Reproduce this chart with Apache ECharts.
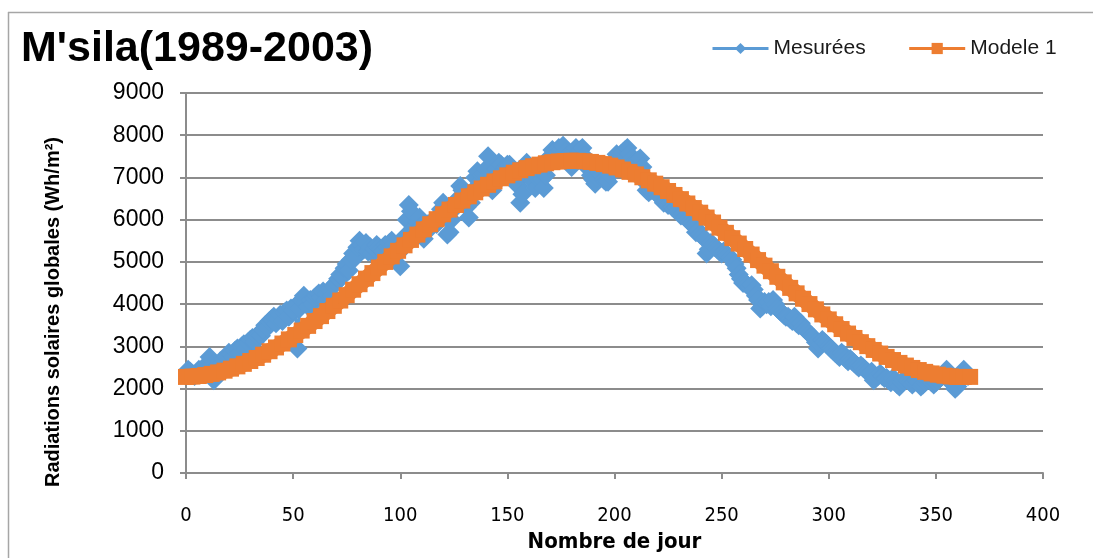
<!DOCTYPE html>
<html><head><meta charset="utf-8">
<script src="https://cdn.jsdelivr.net/npm/echarts@6/dist/echarts.min.js"></script>
<style>html,body{margin:0;padding:0;background:#fff}#c{width:1093px;height:558px}</style>
</head><body><div id="c"></div>
<script>
const TITLE = "M'sila(1989-2003)";
const SERIES_NAMES = ['Mesurées', 'Modele 1'];
const X_NAME = 'Nombre de jour';
const Y_NAME = 'Radiations solaires globales (Wh/m²)';
const X_TICKS = [0, 50, 100, 150, 200, 250, 300, 350, 400];
const Y_TICKS = [0, 1000, 2000, 3000, 4000, 5000, 6000, 7000, 8000, 9000];

// measured daily values, day 1..365
const measuredDays = Array.from({length: 365}, (_, i) => i + 1);
const measuredValues = [
2450,2400,2350,2300,2350,2450,2400,2450,2550,2500,
2750,2550,2200,2450,2550,2650,2600,2700,2750,2850,
2800,2750,2900,2950,2850,3000,3050,2950,3100,3150,
3200,3100,3250,3300,3250,3400,3500,3450,3600,3650,
3700,3550,3650,3750,3600,3800,3850,3700,3900,3850,
3950,2950,3900,4100,4200,4050,3950,4100,4000,4150,
4200,4250,4150,4300,4100,4250,4350,4200,4450,4500,
4600,4700,4650,4850,4950,4800,5050,5200,5100,5350,
5500,5400,5300,5450,5250,5350,5200,5300,5400,5350,
5300,5250,5400,5350,5450,5500,5400,5300,5200,4900,
5400,5600,6000,6350,6200,5800,5700,5950,6050,5850,
5550,5750,5900,5800,5950,6000,5900,6100,6250,6400,
6200,5650,5700,6000,6250,6350,6500,6800,6700,6600,
6300,6050,6400,6700,7000,7150,6900,7050,7100,7200,
7500,7100,6700,7000,7200,7350,7300,7150,7250,7300,
7300,7150,7050,6900,6800,6400,6600,7100,7350,7200,
7050,6900,6750,7000,7100,6950,6750,7050,7300,7500,
7650,7600,7550,7700,7650,7750,7600,7500,7350,7250,
7600,7700,7550,7650,7700,7500,7350,7200,7050,6950,
6850,7000,7100,7050,6950,6900,6900,7050,7200,7400,
7550,7450,7550,7600,7650,7700,7550,7450,7350,7300,
7400,7450,7250,6900,6700,6650,6700,6750,6650,6600,
6550,6500,6400,6450,6350,6400,6300,6250,6300,6200,
6100,6150,6050,6000,5950,5900,5850,5700,5750,5650,
5600,5550,5200,5300,5450,5400,5350,5300,5250,5200,
5250,5200,5150,5100,5050,4950,4850,4700,4600,4500,
4500,4450,4400,4450,4350,4200,4100,3900,3950,4050,
4000,4050,3950,4100,4000,3900,3850,3800,3750,3700,
3700,3650,3600,3700,3550,3500,3550,3450,3400,3350,
3300,3250,3200,3100,2950,3050,3150,3100,3050,3000,
2950,2900,2850,2800,2750,2850,2800,2700,2650,2700,
2650,2600,2550,2500,2550,2500,2450,2400,2350,2400,
2200,2250,2300,2350,2300,2250,2250,2200,2150,2250,
2200,2100,2050,2150,2200,2250,2200,2150,2100,2150,
2200,2150,2050,2100,2150,2200,2250,2150,2100,2150,
2200,2250,2300,2350,2450,2300,2150,2100,2000,2050,
2200,2300,2450,2350,2300
];

// model values read every 3 days, day 0..366
const modelDays = Array.from({length: 123}, (_, i) => i * 3);
const modelValues = [
2277,2285,2299,2321,2349,2384,2425,2473,2527,2587,
2654,2726,2803,2886,2975,3068,3166,3269,3375,3486,
3600,3717,3837,3961,4086,4213,4342,4473,4604,4736,
4868,5000,5132,5263,5393,5521,5647,5771,5893,6012,
6128,6240,6349,6453,6554,6649,6740,6826,6906,6981,
7050,7113,7171,7222,7266,7304,7336,7361,7379,7390,
7395,7393,7383,7368,7345,7316,7280,7237,7188,7133,
7072,7005,6932,6853,6769,6680,6586,6487,6384,6276,
6166,6051,5933,5812,5689,5563,5435,5306,5175,5044,
4912,4780,4648,4516,4386,4256,4128,4002,3878,3757,
3639,3524,3411,3304,3200,3100,3006,2916,2831,2751,
2677,2609,2546,2490,2440,2397,2360,2330,2306,2289,
2278,2275,2278
];

const BLUE = '#5B9BD5', ORANGE = '#ED7D31', GRID = '#8C8C8C';
const NARROW = "'Liberation Sans Narrow','DejaVu Sans Condensed','Liberation Sans',sans-serif";

const chart = echarts.init(document.getElementById('c'), null, {renderer: 'canvas'});
chart.setOption({
  animation: false,
  backgroundColor: '#fff',
  grid: {left: 186, right: 50, top: 93, bottom: 78, containLabel: false},
  title: {
    text: TITLE, left: 16, top: 23,
    textStyle: {fontFamily: 'Liberation Sans', fontWeight: 'bold', fontSize: 43, color: '#000'}
  },
  legend: {
    data: SERIES_NAMES, left: 706, top: 33, itemWidth: 56, itemHeight: 14, itemGap: 42,
    lineStyle: {width: 3},
    textStyle: {fontFamily: 'Liberation Sans', fontSize: 21, color: '#1a1a1a', padding: [0,0,0,0]}
  },
  xAxis: {
    type: 'value', min: X_TICKS[0], max: X_TICKS[X_TICKS.length-1], interval: 50,
    name: X_NAME, nameLocation: 'middle', nameGap: 54,
    nameTextStyle: {fontFamily: NARROW, fontWeight: 'bold', fontSize: 22, color: '#000'},
    axisLine: {show: true, lineStyle: {color: GRID, width: 2}},
    axisTick: {show: true, length: 6, lineStyle: {color: GRID, width: 2}},
    axisLabel: {margin: 33, fontFamily: NARROW, fontSize: 20, color: '#000'},
    splitLine: {show: false}
  },
  yAxis: {
    type: 'value', min: Y_TICKS[0], max: Y_TICKS[Y_TICKS.length-1], interval: 1000,
    axisLine: {show: true, lineStyle: {color: GRID, width: 2}},
    axisTick: {show: true, length: 6, lineStyle: {color: GRID, width: 2}},
    axisLabel: {margin: 22, fontFamily: 'Liberation Sans', fontSize: 23, color: '#000',
      formatter: v => String(v)},
    splitLine: {show: true, lineStyle: {color: GRID, width: 2}}
  },
  graphic: [
    {type: 'line', shape: {x1: 8.5, y1: 12, x2: 8.5, y2: 558}, style: {stroke: '#A6A6A6', lineWidth: 1.5}},
    {type: 'line', shape: {x1: 8, y1: 12.5, x2: 1093, y2: 12.5}, style: {stroke: '#A6A6A6', lineWidth: 1.5}},
    {type: 'text', left: 43, top: 137, rotation: Math.PI/2,
     style: {text: Y_NAME, fontFamily: 'Liberation Sans', fontWeight: 'bold', fontSize: 20, fill: '#000'}}
  ],
  series: [
    {
      name: SERIES_NAMES[0], type: 'line',
      data: measuredDays.map((d, i) => [d, measuredValues[i]]),
      symbol: 'diamond', symbolSize: 20,
      lineStyle: {color: BLUE, width: 3}, itemStyle: {color: BLUE},
      z: 2
    },
    {
      name: SERIES_NAMES[1], type: 'line',
      data: modelDays.map((d, i) => [d, modelValues[i]]),
      symbol: 'rect', symbolSize: 16,
      lineStyle: {color: ORANGE, width: 16}, itemStyle: {color: ORANGE},
      z: 3
    }
  ]
});
</script></body></html>
